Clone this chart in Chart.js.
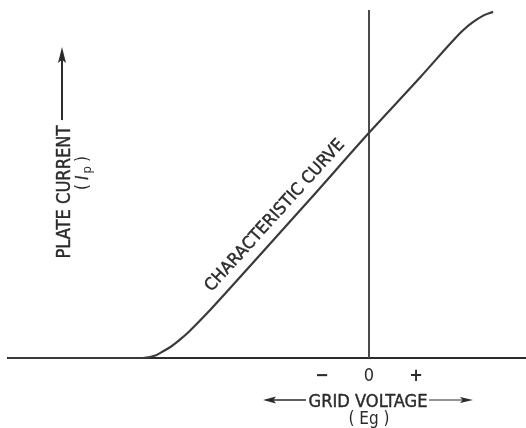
<!DOCTYPE html>
<html>
<head>
<meta charset="utf-8">
<script src="https://cdn.jsdelivr.net/npm/chart.js@4/dist/chart.umd.min.js"></script>
<style>
  html, body { margin: 0; padding: 0; background: #fff; }
  #wrap { width: 526px; height: 428px; }
</style>
</head>
<body>
<div id="wrap"><canvas id="chart" width="526" height="428"></canvas></div>
<script>
// --- Data (grid voltage in tick units, plate current in same units) ---
const gridVoltage  = [-7.68, -4.81, -4.53, -4.37, -4.20, -4.01, -3.82, -3.61, -3.38, -2.32, -1.26, 0.00, 1.09, 1.77, 1.99, 2.21, 2.43, 2.64];
const plateCurrent = [ 0.00,  0.00,  0.06,  0.15,  0.25,  0.40,  0.57,  0.78,  1.02,  2.19,  3.37, 4.79, 5.97, 6.73, 6.96, 7.14, 7.28, 7.36];

const zeroLineX = [0, 0];
const zeroLineY = [0, 7.40];

const tickValues = [-1, 0, 1];
const tickLabels = ['\u2212', '0', '+'];

const X_MIN = -7.68, X_MAX = 3.34;
const Y_MIN = 0, Y_MAX = 7.40;

const INK = '#2b2b2b';
const FONT = "'Liberation Sans Narrow', 'DejaVu Sans Condensed', 'Liberation Sans', sans-serif";

// --- Helpers for the hand-lettered labels ---
function fitText(ctx, text, x, y, width, angle, size) {
  ctx.save();
  ctx.translate(x, y);
  ctx.rotate(angle);
  ctx.font = `${size}px ${FONT}`;
  const w = ctx.measureText(text).width;
  ctx.scale(width / w, 1);
  ctx.textAlign = 'center';
  ctx.textBaseline = 'alphabetic';
  ctx.fillText(text, 0, 0);
  ctx.lineWidth = 0.4;
  ctx.strokeText(text, 0, 0);
  ctx.restore();
}

function arrow(ctx, x1, y1, x2, y2, headLen, headHalf, lw) {
  const a = Math.atan2(y2 - y1, x2 - x1);
  ctx.save();
  ctx.lineWidth = lw;
  ctx.beginPath();
  ctx.moveTo(x1, y1);
  ctx.lineTo(x2 - Math.cos(a) * headLen * 0.7, y2 - Math.sin(a) * headLen * 0.7);
  ctx.stroke();
  ctx.translate(x2, y2);
  ctx.rotate(a);
  ctx.beginPath();
  ctx.moveTo(0, 0);
  ctx.lineTo(-headLen, -headHalf);
  ctx.lineTo(-headLen * 0.8, 0);
  ctx.lineTo(-headLen, headHalf);
  ctx.closePath();
  ctx.fill();
  ctx.restore();
}

const labelsPlugin = {
  id: 'labels',
  afterDraw(chart) {
    const ctx = chart.ctx;
    const xs = chart.scales.x, ys = chart.scales.y;
    const x0 = xs.getPixelForValue(0);
    ctx.save();
    ctx.fillStyle = INK;
    ctx.strokeStyle = INK;

    // y axis label
    fitText(ctx, 'PLATE CURRENT', 69.5, 192, 133, -Math.PI / 2, 19);
    arrow(ctx, 62, 120, 62, 47, 16, 4, 2);

    // (Ip)
    ctx.save();
    ctx.translate(88, 190);
    ctx.rotate(-Math.PI / 2);
    ctx.textBaseline = 'alphabetic';
    ctx.lineWidth = 0.4;
    let cx = 0;
    ctx.font = `17px ${FONT}`;
    ctx.fillText('(', cx, 0); cx += ctx.measureText('(').width + 4;
    ctx.font = `italic 17px ${FONT}`;
    ctx.fillText('I', cx, 0); ctx.strokeText('I', cx, 0); cx += ctx.measureText('I').width + 2;
    ctx.font = `13px ${FONT}`;
    ctx.fillText('p', cx, 3); cx += ctx.measureText('p').width + 4;
    ctx.font = `17px ${FONT}`;
    ctx.fillText(')', cx, 0);
    ctx.restore();

    // characteristic curve label along the line
    const p1 = { x: xs.getPixelForValue(-3.35), y: ys.getPixelForValue(1.40) };
    const p2 = { x: xs.getPixelForValue(-0.51), y: ys.getPixelForValue(4.53) };
    const ang = Math.atan2(p2.y - p1.y, p2.x - p1.x);
    const len = Math.hypot(p2.x - p1.x, p2.y - p1.y);
    fitText(ctx, 'CHARACTERISTIC CURVE', (p1.x + p2.x) / 2, (p1.y + p2.y) / 2, len, ang, 17);

    // x axis label
    fitText(ctx, 'GRID VOLTAGE', x0 - 1, 406.5, 119, 0, 18);
    ctx.font = `17px ${FONT}`;
    ctx.textAlign = 'center';
    ctx.fillText('( Eg )', x0, 424);
    arrow(ctx, x0 - 63, 400, x0 - 106, 400, 13, 3.5, 1.5);
    arrow(ctx, x0 + 60, 400, x0 + 104, 400, 13, 3, 1);

    ctx.restore();
  }
};

new Chart(document.getElementById('chart'), {
  type: 'line',
  data: {
    datasets: [
      {
        data: gridVoltage.map((v, i) => ({ x: v, y: plateCurrent[i] })),
        borderColor: '#3a3a3a',
        borderWidth: 2.2,
        pointRadius: 0,
        cubicInterpolationMode: 'monotone',
        clip: false,
      },
      {
        data: zeroLineX.map((v, i) => ({ x: v, y: zeroLineY[i] })),
        borderColor: '#4a4a4a',
        borderWidth: 2,
        pointRadius: 0,
        clip: false,
      }
    ]
  },
  options: {
    responsive: false,
    animation: false,
    layout: { padding: { left: 8, right: 0, top: 10, bottom: 0 } },
    plugins: { legend: { display: false }, tooltip: { enabled: false } },
    scales: {
      x: {
        type: 'linear',
        min: X_MIN,
        max: X_MAX,
        grid: { display: false, drawTicks: false },
        border: { display: true, color: INK, width: 2 },
        afterBuildTicks: (scale) => { scale.ticks = tickValues.map(v => ({ value: v })); },
        afterFit: (scale) => { scale.height = 70; },
        ticks: {
          autoSkip: false,
          maxRotation: 0,
          padding: 8,
          color: INK,
          font: (c) => ({ family: FONT, size: 18, weight: c.index === 1 ? 'normal' : 'bold' }),
          callback: (value, index) => tickLabels[index],
        }
      },
      y: {
        type: 'linear',
        display: false,
        min: Y_MIN,
        max: Y_MAX,
      }
    }
  },
  plugins: [labelsPlugin]
});
</script>
</body>
</html>
